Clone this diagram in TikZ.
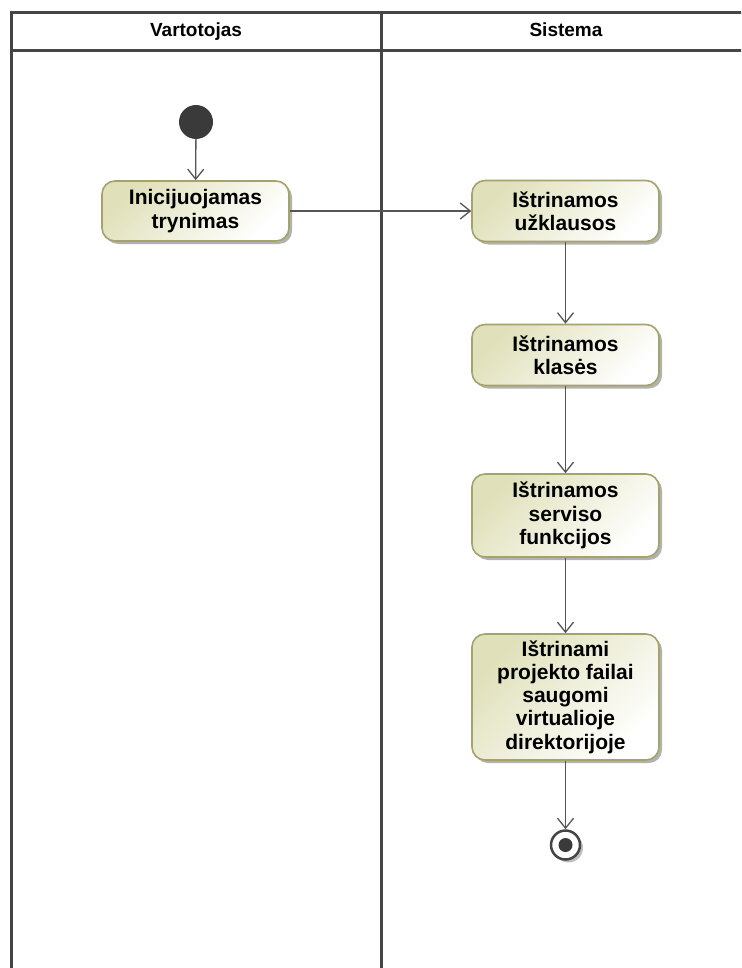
\documentclass[tikz,border=0pt]{standalone}
\usepackage{fontspec}
\setmainfont{Liberation Sans}
\usetikzlibrary{arrows.meta,shadows}
\definecolor{laneline}{HTML}{454545}
\definecolor{actfill}{HTML}{E0E0BA}
\definecolor{actborder}{HTML}{A4A46A}
\definecolor{flow}{HTML}{555555}
\definecolor{dot}{HTML}{3A3A3A}
\tikzset{
  action/.style={rounded corners=13pt, draw=actborder, line width=1.6pt,
    top color=actfill, bottom color=white, shading angle=45,
    minimum width=187pt, align=center, inner sep=0pt,
    font=\fontsize{21}{23.3}\selectfont\bfseries,
    drop shadow={shadow xshift=3pt, shadow yshift=-3pt, opacity=0.3, fill=black}},
  flowarrow/.style={draw=flow, line width=1.3pt,
    -{Straight Barb[length=10pt,width=16pt,line width=1.3pt]}},
  lane/.style={draw=laneline, line width=3pt},
  header/.style={anchor=base, font=\fontsize{19}{22}\selectfont\bfseries},
  startnode/.style={circle, fill=dot, minimum size=34pt, inner sep=0pt},
  endnode/.style={circle, draw=laneline, line width=2.5pt, fill=white,
    minimum size=29pt, inner sep=0pt,
    drop shadow={shadow xshift=3pt, shadow yshift=-3pt, opacity=0.25, fill=black}},
  enddot/.style={circle, fill=dot, minimum size=14pt, inner sep=0pt},
}
\begin{document}
\begin{tikzpicture}[x=1pt,y=-1pt]
\useasboundingbox (0,0) rectangle (741,968);
% swimlane frame
\begin{scope}
  \clip (0,0) rectangle (741,968);
  \draw[lane] (11,1000) -- (11,13) -- (800,13);
  \draw[lane] (11,51) -- (800,51);
  \draw[lane] (381,13) -- (381,1000);
\end{scope}
\node[header] (hv) at (196,37) {Vartotojas};
\node[header] (hs) at (566,37) {Sistema};

% activity nodes
\node[startnode] (start) at (196,122) {};
\node[action, minimum height=60pt] (a1) at (195.5,211) {Inicijuojamas\\trynimas};
\node[action, minimum height=61pt] (a2) at (565.5,211) {Ištrinamos\\užklausos};
\node[action, minimum height=61pt] (a3) at (565.5,355) {Ištrinamos\\klasės};
\node[action, minimum height=83pt] (a4) at (565.5,515.5) {Ištrinamos\\serviso\\funkcijos};
\node[action, minimum height=126pt] (a5) at (565.5,697) {Ištrinami\\projekto failai\\saugomi\\virtualioje\\direktorijoje};
\node[endnode] (end) at (565.5,845) {};
\node[enddot] (enddot) at (end.center) {};

% control flows
\draw[flowarrow] (start) -- (a1);
\draw[flowarrow] (a1) -- (a2);
\draw[flowarrow] (a2) -- (a3);
\draw[flowarrow] (a3) -- (a4);
\draw[flowarrow] (a4) -- (a5);
\draw[flowarrow] (a5) -- (end);
\end{tikzpicture}
\end{document}
